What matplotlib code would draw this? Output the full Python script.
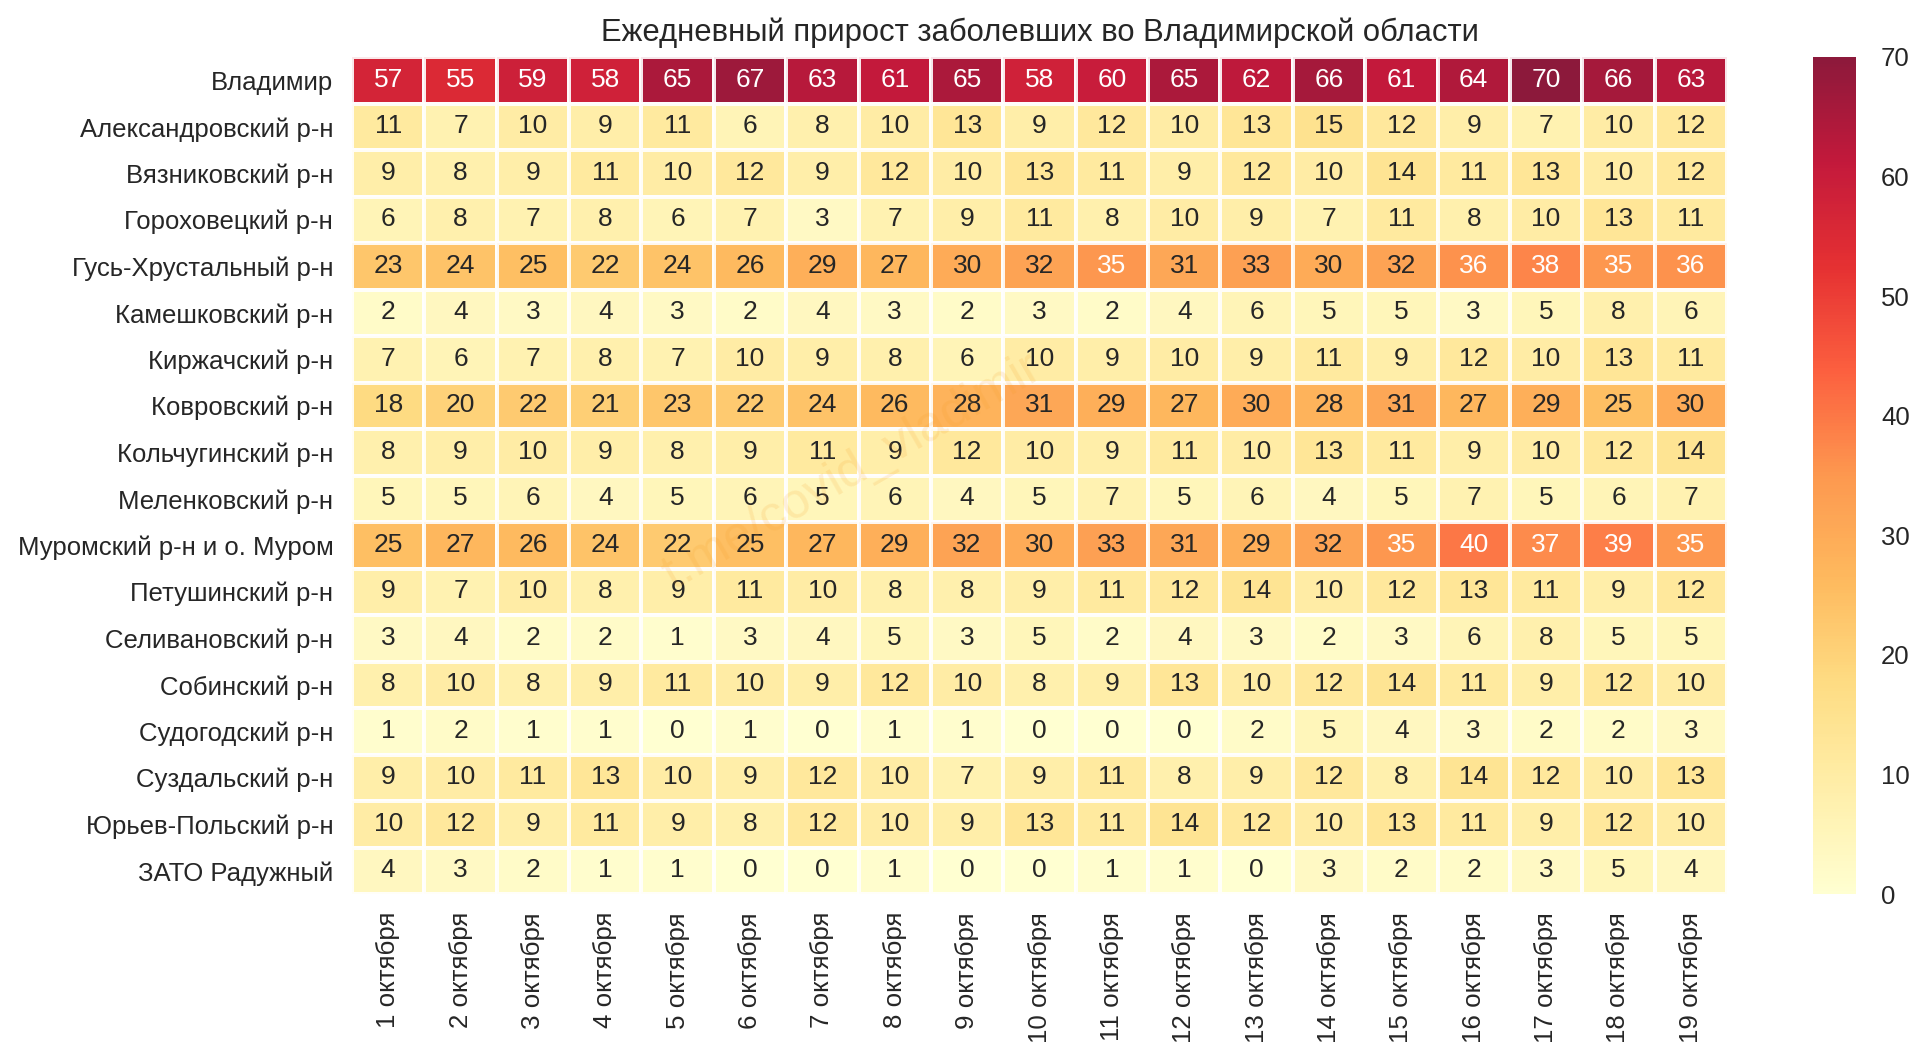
import numpy as np
import matplotlib.pyplot as plt

plt.rcParams['font.family'] = ['Liberation Sans', 'DejaVu Sans']

DISTRICTS = [
    "Владимир", "Александровский р-н", "Вязниковский р-н", "Гороховецкий р-н",
    "Гусь-Хрустальный р-н", "Камешковский р-н", "Киржачский р-н", "Ковровский р-н",
    "Кольчугинский р-н", "Меленковский р-н", "Муромский р-н и о. Муром",
    "Петушинский р-н", "Селивановский р-н", "Собинский р-н", "Судогодский р-н",
    "Суздальский р-н", "Юрьев-Польский р-н", "ЗАТО Радужный",
]
DAYS = [f"{d} октября" for d in range(1, 20)]

vladimir = [57, 55, 59, 58, 65, 67, 63, 61, 65, 58, 60, 65, 62, 66, 61, 64, 70, 66, 63]
aleksandrov = [11, 7, 10, 9, 11, 6, 8, 10, 13, 9, 12, 10, 13, 15, 12, 9, 7, 10, 12]
vyazniki = [9, 8, 9, 11, 10, 12, 9, 12, 10, 13, 11, 9, 12, 10, 14, 11, 13, 10, 12]
gorokhovets = [6, 8, 7, 8, 6, 7, 3, 7, 9, 11, 8, 10, 9, 7, 11, 8, 10, 13, 11]
gus = [23, 24, 25, 22, 24, 26, 29, 27, 30, 32, 35, 31, 33, 30, 32, 36, 38, 35, 36]
kameshkovo = [2, 4, 3, 4, 3, 2, 4, 3, 2, 3, 2, 4, 6, 5, 5, 3, 5, 8, 6]
kirzhach = [7, 6, 7, 8, 7, 10, 9, 8, 6, 10, 9, 10, 9, 11, 9, 12, 10, 13, 11]
kovrov = [18, 20, 22, 21, 23, 22, 24, 26, 28, 31, 29, 27, 30, 28, 31, 27, 29, 25, 30]
kolchugino = [8, 9, 10, 9, 8, 9, 11, 9, 12, 10, 9, 11, 10, 13, 11, 9, 10, 12, 14]
melenki = [5, 5, 6, 4, 5, 6, 5, 6, 4, 5, 7, 5, 6, 4, 5, 7, 5, 6, 7]
murom = [25, 27, 26, 24, 22, 25, 27, 29, 32, 30, 33, 31, 29, 32, 35, 40, 37, 39, 35]
petushki = [9, 7, 10, 8, 9, 11, 10, 8, 8, 9, 11, 12, 14, 10, 12, 13, 11, 9, 12]
selivanovo = [3, 4, 2, 2, 1, 3, 4, 5, 3, 5, 2, 4, 3, 2, 3, 6, 8, 5, 5]
sobinka = [8, 10, 8, 9, 11, 10, 9, 12, 10, 8, 9, 13, 10, 12, 14, 11, 9, 12, 10]
sudogda = [1, 2, 1, 1, 0, 1, 0, 1, 1, 0, 0, 0, 2, 5, 4, 3, 2, 2, 3]
suzdal = [9, 10, 11, 13, 10, 9, 12, 10, 7, 9, 11, 8, 9, 12, 8, 14, 12, 10, 13]
yuryev = [10, 12, 9, 11, 9, 8, 12, 10, 9, 13, 11, 14, 12, 10, 13, 11, 9, 12, 10]
raduzhny = [4, 3, 2, 1, 1, 0, 0, 1, 0, 0, 1, 1, 0, 3, 2, 2, 3, 5, 4]

values = np.array([
    vladimir, aleksandrov, vyazniki, gorokhovets, gus, kameshkovo, kirzhach, kovrov,
    kolchugino, melenki, murom, petushki, selivanovo, sobinka, sudogda, suzdal,
    yuryev, raduzhny,
])

W, H = 1920, 1060
TEXT_COLOR = '#262626'

fig = plt.figure(figsize=(W / 100, H / 100), dpi=100)
ax = fig.add_axes([352 / W, 1 - 894 / H, (1727 - 352) / W, (894 - 57) / H])
cax = fig.add_axes([1813 / W, 1 - 894 / H, (1856 - 1813) / W, (894 - 57) / H])

mesh = ax.pcolormesh(values, cmap='YlOrRd', vmin=0, vmax=70, alpha=0.9,
                     edgecolors='white', linewidth=1.7)
ax.invert_yaxis()

for row in range(values.shape[0]):
    for col in range(values.shape[1]):
        val = values[row, col]
        # light digits on the darker cells
        color = 'white' if val >= 35 else TEXT_COLOR
        ax.text(col + 0.5, row + 0.49, str(val), ha='center', va='center',
                fontsize=19, color=color)

ax.set_xticks(np.arange(len(DAYS)) + 0.5)
ax.set_xticklabels(DAYS, rotation=90, fontsize=18.6, color=TEXT_COLOR)
ax.set_yticks(np.arange(len(DISTRICTS)) + 0.5)
ax.set_yticklabels(DISTRICTS, fontsize=18.5, color=TEXT_COLOR)
ax.tick_params(axis='x', length=0, pad=13)
ax.tick_params(axis='y', length=0, pad=13.5)
for spine in ax.spines.values():
    spine.set_visible(False)

ax.set_title("Ежедневный прирост заболевших во Владимирской области",
             fontsize=22.3, color=TEXT_COLOR, pad=11.5)

cbar = fig.colorbar(mesh, cax=cax)
cbar.set_ticks(range(0, 71, 10))
cbar.ax.tick_params(length=0, labelsize=18.5, labelcolor=TEXT_COLOR, pad=18)
cbar.outline.set_visible(False)

# watermark over the cells
fig.text(0.444, 0.555, "t.me/covid_vladimir", rotation=30, fontsize=36, color='#f59a23',
         alpha=0.15, ha='center', va='center')

fig.savefig('out.png', dpi=100)
